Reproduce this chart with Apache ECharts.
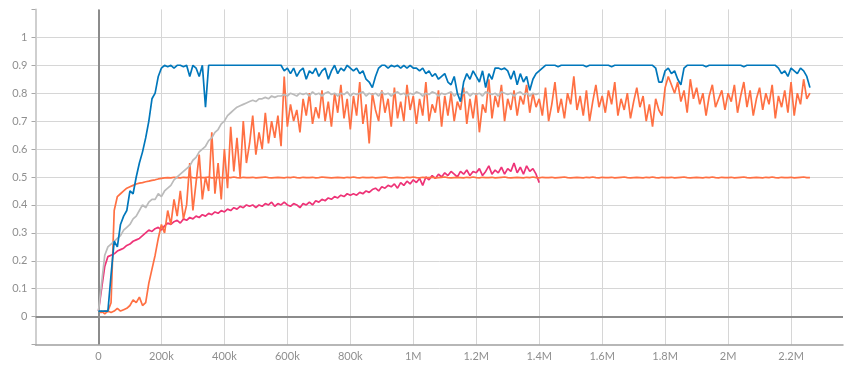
<!DOCTYPE html>
<html>
<head>
<meta charset="utf-8">
<script src="https://cdn.jsdelivr.net/npm/echarts@6/dist/echarts.min.js"></script>
<style>
html,body{margin:0;padding:0;background:#fff;}
#chart{width:846px;height:366px;}
</style>
</head>
<body>
<div id="chart"></div>
<script>
// step spacing between recorded points
const STEP = 10000;

const blueRun = [
0.02,0.02,0.02,0.02,0.15,0.27,0.25,0.33,0.36,0.38,
0.45,0.44,0.50,0.55,0.59,0.64,0.70,0.78,0.80,0.86,
0.89,0.90,0.895,0.90,0.89,0.90,0.90,0.895,0.90,0.86,
0.90,0.89,0.86,0.90,0.75,0.90,0.90,0.90,0.90,0.90,
0.90,0.90,0.90,0.90,0.90,0.90,0.90,0.90,0.90,0.90,
0.90,0.90,0.90,0.90,0.90,0.90,0.90,0.90,0.90,0.88,
0.89,0.87,0.89,0.86,0.88,0.89,0.85,0.88,0.87,0.89,
0.86,0.88,0.89,0.85,0.88,0.90,0.87,0.89,0.88,0.90,
0.89,0.88,0.89,0.87,0.88,0.85,0.84,0.82,0.86,0.89,
0.90,0.90,0.89,0.90,0.895,0.90,0.89,0.90,0.89,0.90,
0.89,0.89,0.88,0.89,0.87,0.88,0.86,0.87,0.85,0.86,
0.87,0.84,0.83,0.86,0.80,0.77,0.84,0.87,0.85,0.88,
0.86,0.84,0.88,0.82,0.87,0.85,0.89,0.89,0.885,0.89,
0.88,0.85,0.88,0.83,0.87,0.84,0.86,0.81,0.85,0.87,
0.88,0.89,0.90,0.90,0.90,0.90,0.895,0.90,0.90,0.90,
0.90,0.90,0.90,0.90,0.90,0.895,0.90,0.90,0.90,0.90,
0.90,0.90,0.90,0.895,0.90,0.90,0.90,0.90,0.90,0.90,
0.90,0.90,0.90,0.90,0.90,0.90,0.90,0.89,0.84,0.84,
0.88,0.89,0.87,0.88,0.85,0.83,0.89,0.90,0.90,0.90,
0.90,0.90,0.90,0.895,0.90,0.90,0.90,0.90,0.90,0.90,
0.90,0.90,0.90,0.90,0.90,0.895,0.90,0.90,0.90,0.90,
0.90,0.90,0.90,0.90,0.90,0.90,0.89,0.87,0.88,0.86,
0.89,0.88,0.87,0.89,0.88,0.86,0.82
];

const orangeNoisy = [
0.01,0.02,0.01,0.02,0.015,0.02,0.03,0.02,0.025,0.03,
0.04,0.06,0.05,0.07,0.04,0.05,0.12,0.17,0.22,0.28,
0.33,0.30,0.38,0.33,0.42,0.36,0.45,0.35,0.40,0.55,
0.38,0.48,0.58,0.42,0.50,0.45,0.66,0.44,0.55,0.42,
0.60,0.46,0.68,0.52,0.64,0.50,0.70,0.55,0.62,0.72,
0.58,0.66,0.60,0.73,0.62,0.70,0.64,0.72,0.61,0.86,
0.68,0.76,0.70,0.74,0.66,0.78,0.72,0.80,0.69,0.75,
0.71,0.81,0.70,0.77,0.68,0.80,0.73,0.83,0.71,0.78,
0.67,0.79,0.72,0.84,0.69,0.76,0.62,0.80,0.74,0.70,
0.81,0.73,0.78,0.68,0.82,0.71,0.77,0.70,0.83,0.74,
0.79,0.69,0.78,0.72,0.84,0.70,0.76,0.73,0.81,0.68,
0.79,0.72,0.80,0.70,0.77,0.74,0.82,0.69,0.78,0.71,
0.80,0.66,0.76,0.73,0.85,0.71,0.79,0.75,0.83,0.70,
0.78,0.74,0.81,0.72,0.79,0.76,0.83,0.73,0.80,0.75,
0.78,0.72,0.82,0.70,0.76,0.84,0.73,0.78,0.71,0.80,
0.76,0.86,0.74,0.79,0.72,0.81,0.70,0.77,0.83,0.75,
0.79,0.73,0.81,0.76,0.84,0.72,0.78,0.74,0.80,0.71,
0.77,0.82,0.75,0.79,0.70,0.76,0.68,0.78,0.74,0.72,
0.82,0.86,0.83,0.80,0.84,0.77,0.81,0.73,0.85,0.78,
0.82,0.76,0.80,0.72,0.79,0.83,0.75,0.78,0.81,0.74,
0.80,0.77,0.83,0.73,0.79,0.84,0.75,0.81,0.72,0.78,
0.82,0.74,0.80,0.76,0.83,0.71,0.79,0.75,0.81,0.73,
0.84,0.72,0.80,0.76,0.85,0.78,0.80
];

const orangeFlat = [
0.02,0.015,0.02,0.02,0.05,0.38,0.43,0.44,0.45,0.46,
0.465,0.47,0.475,0.478,0.48,0.483,0.485,0.488,0.49,0.493,
0.495,0.497,0.498,0.497,0.499,0.498,0.497,0.499,0.498,0.5,
0.498,0.497,0.499,0.498,0.498,0.5,0.497,0.498,0.499,0.498,
0.497,0.499,0.498,0.5,0.498,0.497,0.499,0.498,0.498,0.499,
0.497,0.498,0.499,0.5,0.498,0.497,0.498,0.499,0.498,0.497,
0.499,0.498,0.5,0.498,0.497,0.499,0.498,0.498,0.499,0.497,
0.498,0.5,0.499,0.498,0.497,0.498,0.499,0.498,0.497,0.499,
0.498,0.5,0.498,0.497,0.499,0.498,0.498,0.499,0.497,0.498,
0.499,0.5,0.498,0.497,0.498,0.499,0.498,0.497,0.499,0.498,
0.5,0.498,0.497,0.499,0.498,0.498,0.499,0.497,0.498,0.499,
0.5,0.498,0.497,0.498,0.499,0.498,0.497,0.499,0.498,0.5,
0.498,0.497,0.499,0.498,0.498,0.499,0.497,0.498,0.499,0.5,
0.498,0.497,0.498,0.499,0.498,0.497,0.499,0.498,0.5,0.498,
0.497,0.499,0.498,0.498,0.499,0.497,0.498,0.499,0.5,0.498,
0.497,0.498,0.499,0.498,0.497,0.499,0.498,0.5,0.498,0.497,
0.499,0.498,0.498,0.499,0.497,0.498,0.499,0.5,0.498,0.497,
0.498,0.499,0.498,0.497,0.499,0.498,0.5,0.498,0.497,0.499,
0.498,0.498,0.499,0.497,0.498,0.499,0.5,0.498,0.497,0.498,
0.499,0.498,0.497,0.499,0.498,0.5,0.498,0.497,0.499,0.498,
0.498,0.499,0.497,0.498,0.499,0.5,0.498,0.497,0.498,0.499,
0.498,0.497,0.499,0.498,0.5,0.498,0.497,0.499,0.498,0.498,
0.499,0.497,0.498,0.499,0.5,0.498,0.498
];

const grayRun = [
0.02,0.12,0.22,0.25,0.26,0.27,0.28,0.29,0.31,0.32,
0.33,0.35,0.36,0.38,0.40,0.39,0.41,0.42,0.42,0.44,
0.43,0.45,0.46,0.47,0.49,0.50,0.51,0.52,0.53,0.54,
0.56,0.57,0.59,0.60,0.61,0.63,0.64,0.66,0.67,0.69,
0.70,0.72,0.73,0.74,0.75,0.755,0.76,0.765,0.77,0.775,
0.77,0.78,0.78,0.785,0.78,0.79,0.785,0.79,0.79,0.795,
0.79,0.80,0.795,0.79,0.80,0.795,0.80,0.79,0.805,0.795,
0.80,0.79,0.80,0.805,0.795,0.80,0.79,0.80,0.795,0.805,
0.79,0.80,0.795,0.80,0.805,0.79,0.80,0.795,0.80,0.79,
0.805,0.795,0.80,0.79,0.80,0.805,0.795,0.80,0.79,0.80,
0.795,0.805,0.80,0.79,0.80,0.795,0.805,0.80,0.79,0.80,
0.795,0.80,0.805,0.79,0.80,0.795,0.80,0.805,0.79,0.80,
0.795,0.80,0.79,0.805,0.80,0.795,0.80,0.79,0.805,0.80,
0.795,0.80,0.79,0.80,0.805,0.795,0.80,0.79,0.80,0.795,
0.80
];

const pinkRun = [
0.02,0.10,0.18,0.215,0.22,0.225,0.235,0.24,0.245,0.255,
0.26,0.27,0.275,0.28,0.29,0.30,0.31,0.305,0.315,0.32,
0.31,0.325,0.335,0.33,0.34,0.345,0.335,0.35,0.345,0.355,
0.35,0.36,0.355,0.365,0.36,0.37,0.365,0.375,0.37,0.38,
0.375,0.385,0.38,0.39,0.385,0.395,0.39,0.40,0.395,0.40,
0.39,0.40,0.395,0.405,0.40,0.41,0.395,0.405,0.40,0.41,
0.40,0.395,0.405,0.40,0.39,0.405,0.40,0.41,0.40,0.415,
0.41,0.42,0.415,0.425,0.42,0.43,0.425,0.435,0.43,0.44,
0.435,0.44,0.435,0.445,0.44,0.45,0.445,0.455,0.46,0.45,
0.465,0.46,0.47,0.465,0.475,0.46,0.48,0.47,0.485,0.475,
0.49,0.48,0.495,0.47,0.50,0.49,0.505,0.495,0.51,0.50,
0.515,0.505,0.52,0.51,0.50,0.52,0.51,0.525,0.505,0.52,
0.515,0.53,0.505,0.52,0.54,0.51,0.525,0.515,0.535,0.51,
0.53,0.52,0.55,0.515,0.535,0.51,0.54,0.52,0.53,0.51,
0.48
];

const xTickLabels = {0:'0',200000:'200k',400000:'400k',600000:'600k',800000:'800k',1000000:'1M',1200000:'1.2M',1400000:'1.4M',1600000:'1.6M',1800000:'1.8M',2000000:'2M',2200000:'2.2M'};
const yTickLabels = ['0','0.1','0.2','0.3','0.4','0.5','0.6','0.7','0.8','0.9','1'];

function pairs(arr){ return arr.map((v,i)=>[i*STEP, v]); }

const chart = echarts.init(document.getElementById('chart'), null, {renderer:'canvas'});
const labelFont = {color:'#8f8f8f', fontSize:11, fontFamily:'Lato, "Noto Sans", sans-serif'};
const mk = (name, data, color, z) => ({
  name, type:'line', data: pairs(data), showSymbol:false, symbol:'none',
  lineStyle:{color, width:1.7}, itemStyle:{color}, z, silent:true
});

chart.setOption({
  animation:false,
  grid:{left:35.5, right:0, top:9.4, bottom:21.4, containLabel:false},
  xAxis:{
    type:'value', min:-200000, max:2365000, interval:200000,
    axisLine:{onZero:false, lineStyle:{color:'#a0a0a0', width:1.5}},
    axisTick:{show:false},
    splitLine:{show:true, showMinLine:false, showMaxLine:false, lineStyle:{color:'#d6d6d6', width:1}},
    axisLabel:Object.assign({margin:6, showMinLabel:true, showMaxLabel:true,
      formatter:v=>{ const k=Math.round(v); return xTickLabels[k]!==undefined?xTickLabels[k]:''; }}, labelFont)
  },
  yAxis:{
    type:'value', min:-0.1, max:1.1, interval:0.1,
    axisLine:{show:true, onZero:false, lineStyle:{color:'#cfcfcf', width:2}},
    axisTick:{show:true, length:4, inside:false, lineStyle:{color:'#a8a8a8', width:1}},
    splitLine:{show:true, showMinLine:false, showMaxLine:false, lineStyle:{color:'#d6d6d6', width:1}},
    axisLabel:Object.assign({margin:8,
      formatter:v=>{ const k=Math.round(v*10); return (k>=0 && k<=10)?yTickLabels[k]:''; }}, labelFont)
  },
  series:[
    {type:'line', data:[], z:0, silent:true,
     markLine:{silent:true, symbol:['none','none'], label:{show:false},
       lineStyle:{color:'#8c8c8c', width:2, type:'solid'},
       data:[{yAxis:0},{xAxis:0}]}},
    mk('pink', pinkRun, '#ee3377', 2),
    mk('orangeFlat', orangeFlat, '#ff7043', 3),
    mk('orangeNoisy', orangeNoisy, '#ff7043', 4),
    mk('gray', grayRun, '#bbbbbb', 5),
    mk('blue', blueRun, '#0077bb', 6)
  ]
});
</script>
</body>
</html>
